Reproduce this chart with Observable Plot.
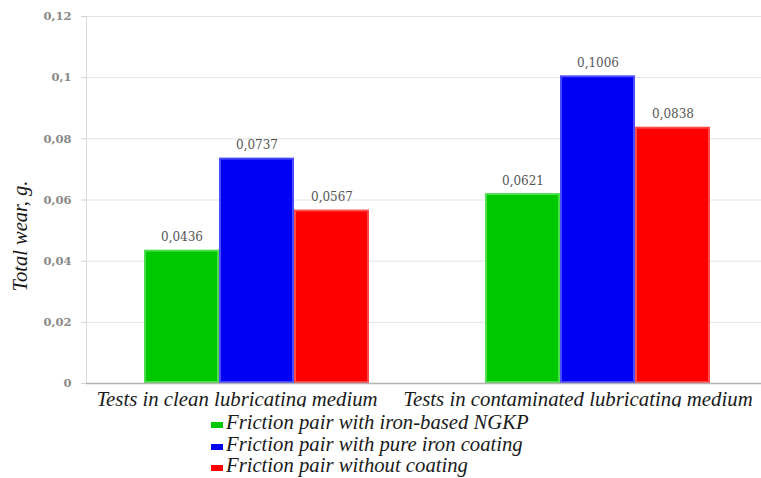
<!DOCTYPE html>
<html>
<head>
<meta charset="utf-8">
<script src="https://cdn.jsdelivr.net/npm/d3@7"></script>
<script src="https://cdn.jsdelivr.net/npm/@observablehq/plot@0.6"></script>
<style>
  html, body { margin: 0; padding: 0; background: #fff; overflow: hidden; }
  #wrap { position: relative; width: 761px; height: 478px; overflow: hidden; font-family: "Liberation Serif", "Times New Roman", serif; }
  #chart svg { display: block; max-width: none !important; }
  #ylabel { position: absolute; left: 20px; top: 236px; transform: translate(-50%, -50%) rotate(-90deg);
            white-space: nowrap; font-style: italic; font-size: 20.5px; color: #1a1a1a; }
  #legend { position: absolute; left: 211px; top: 412px; font-style: italic; font-size: 20.7px; color: #1a1a1a; line-height: 21.5px; }
  #legend .row { display: flex; align-items: center; white-space: nowrap; }
  #legend .sw { display: inline-block; width: 12px; height: 6px; margin-right: 3px; margin-top: 5px; }
</style>
</head>
<body>
<div id="wrap">
  <div id="chart"></div>
  <div id="ylabel">Total wear, g.</div>
  <div id="legend"></div>
</div>
<script>
// Test conditions (groups along the horizontal axis)
const conditions = ["Tests in clean lubricating medium", "Tests in contaminated lubricating medium"];
// Friction pairs (bars within each group)
const series = ["Friction pair with iron-based NGKP", "Friction pair with pure iron coating", "Friction pair without coating"];
const seriesColors = ["#00c800", "#0000f5", "#ff0000"];
const seriesEdges = ["#4be04b", "#4a4aff", "#ff4a4a"];
// Total wear, g
const cleanValues = [0.0436, 0.0737, 0.0567];
const contaminatedValues = [0.0621, 0.1006, 0.0838];
const yTicks = [0, 0.02, 0.04, 0.06, 0.08, 0.1, 0.12];

const comma = d => String(d).replace(".", ",");
const serif = "'DejaVu Serif', serif";
const italicSerif = "'Liberation Serif', 'Times New Roman', serif";

const rows = [];
series.forEach((s, i) => {
  rows.push({condition: conditions[0], series: s, value: cleanValues[i]});
  rows.push({condition: conditions[1], series: s, value: contaminatedValues[i]});
});

const chart = Plot.plot({
  width: 768,
  height: 407,
  marginLeft: 85,
  marginRight: 0,
  marginTop: 16,
  marginBottom: 24,
  style: {fontFamily: italicSerif, background: "transparent", overflow: "hidden", maxWidth: "none"},
  fx: {domain: conditions, padding: 0, label: null},
  x: {domain: series, paddingInner: 0, paddingOuter: 0.755, axis: null},
  y: {domain: [0, 0.12], label: null},
  color: {domain: series, range: seriesColors},
  marks: [
    Plot.gridY(yTicks, {stroke: "#e2e2e2", strokeOpacity: 1}),
    Plot.frame({anchor: "left", stroke: "#dadada", facetAnchor: "left"}),
    Plot.axisY(yTicks, {
      tickSize: 5, tickPadding: 10, tickFormat: comma,
      fontSize: 11.5, fontWeight: "bold", fontFamily: serif, fill: "#8a8a8a", stroke: "#d0d0d0", label: null
    }),
    Plot.barY(rows, {
      fx: "condition", x: "series", y: "value", fill: "series",
      stroke: d => seriesEdges[series.indexOf(d.series)], strokeWidth: 2, inset: 1
    }),
    Plot.ruleY([0], {stroke: "#b4b4b4", strokeWidth: 1.5}),
    Plot.text(rows, {
      fx: "condition", x: "series", y: "value", text: d => comma(d.value),
      dy: -9, fontSize: 12, fontFamily: serif, fill: "#555", lineAnchor: "bottom"
    }),
    Plot.axisFx({
      anchor: "bottom", tickSize: 0, tickPadding: 8, dx: -20,
      fontSize: 20.8, fontStyle: "italic", fontFamily: italicSerif, fill: "#1a1a1a", label: null
    })
  ]
});
document.getElementById("chart").appendChild(chart);

// Legend below the chart
const legend = document.getElementById("legend");
series.forEach((s, i) => {
  const row = document.createElement("div");
  row.className = "row";
  const sw = document.createElement("span");
  sw.className = "sw";
  sw.style.background = seriesColors[i];
  row.appendChild(sw);
  row.appendChild(document.createTextNode(s));
  legend.appendChild(row);
});
</script>
</body>
</html>
